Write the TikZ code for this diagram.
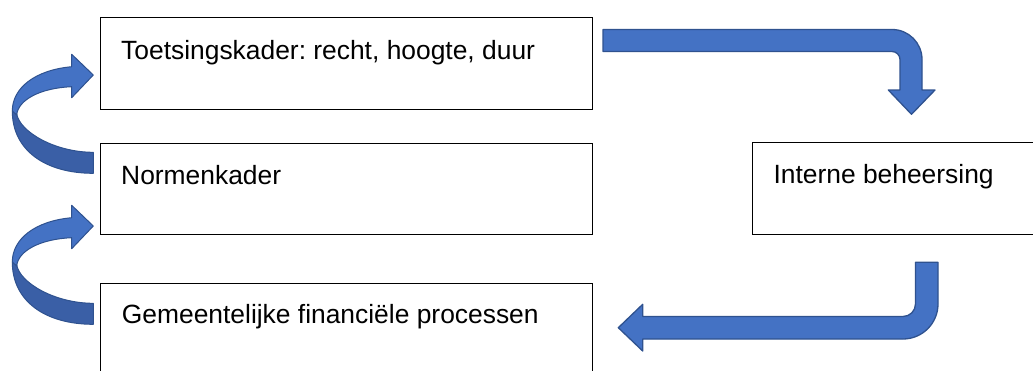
\documentclass[tikz,border=0pt]{standalone}
\usepackage{fontspec}
\setmainfont{Liberation Sans}
\frenchspacing

\definecolor{pijlblauw}{RGB}{68,114,196}
\definecolor{pijlrand}{RGB}{47,82,143}
\definecolor{pijldonker}{RGB}{58,95,166}

\begin{document}
\begin{tikzpicture}[x=1pt,y=-1pt,
    kader/.style={draw, line width=1pt, anchor=north west, inner sep=0pt},
    tekst/.style={anchor=base west, inner sep=0pt, font=\fontsize{26.4}{30}\selectfont},
    pijl/.style={fill=pijlblauw, draw=pijlrand, line width=1.3pt, line join=round}]
    \useasboundingbox (0,0) rectangle (1033,370);
    \node[kader, minimum width=492pt, minimum height=92pt] (toets) at (100,16.7) {};
    \node[kader, minimum width=492pt, minimum height=91.3pt] (normen) at (100,142.7) {};
    \node[kader, minimum width=492pt, minimum height=100pt] (gemeente) at (100,282.7) {};
    \node[kader, minimum width=300pt, minimum height=92pt] (intern) at (752,142) {};
    \node[tekst] (toetstekst) at (121,59.3) {Toetsingskader: recht, hoogte, duur};
    \node[tekst] (normentekst) at (121,184) {Normenkader};
    \node[tekst] (gemeentetekst) at (121.7,323.3) {Gemeentelijke financiële processen};
    \node[tekst] (interntekst) at (773.3,183.3) {Interne beheersing};
    \draw[pijl] (603,29.5) -- (892,29.5) .. controls (908.6,29.5) and (922,42.9) .. (922,59.5)
      -- (922,90) -- (935,90) -- (911.5,114.3) -- (888.3,90) -- (900,90) -- (900,59.5)
      .. controls (900,55.1) and (896.4,51.5) .. (892,51.5) -- (603,51.5) -- cycle;
    \draw[pijl] (915.5,262.3) -- (938,262.3) -- (938,304) .. controls (938,323.3) and (922.3,339) .. (903,339)
      -- (642.7,339) -- (642.7,351) -- (618.3,327.7) -- (642.7,304.3) -- (642.7,316.5) -- (903,316.5)
      .. controls (909.9,316.5) and (915.5,310.9) .. (915.5,304) -- cycle;
    \foreach \dy in {0,151} {
      \begin{scope}[shift={(0,\dy)}]
        \draw[pijl, line width=1pt, fill=pijldonker] (16.7,114) .. controls (20,132) and (55,152.3) .. (93.3,152.3)
          -- (93.3,173.3) .. controls (45,173.3) and (12.3,150) .. (12.3,111) -- cycle;
        \draw[pijl, line width=1pt] (12.3,111) .. controls (12.3,88) and (35,70) .. (71.7,66.7) -- (71.7,54.3)
          -- (93.3,75) -- (71.7,97.7) -- (71.7,86.7) .. controls (40,88) and (18,100) .. (16.7,115) -- cycle;
      \end{scope}
    }
  \end{tikzpicture}
\end{document}
